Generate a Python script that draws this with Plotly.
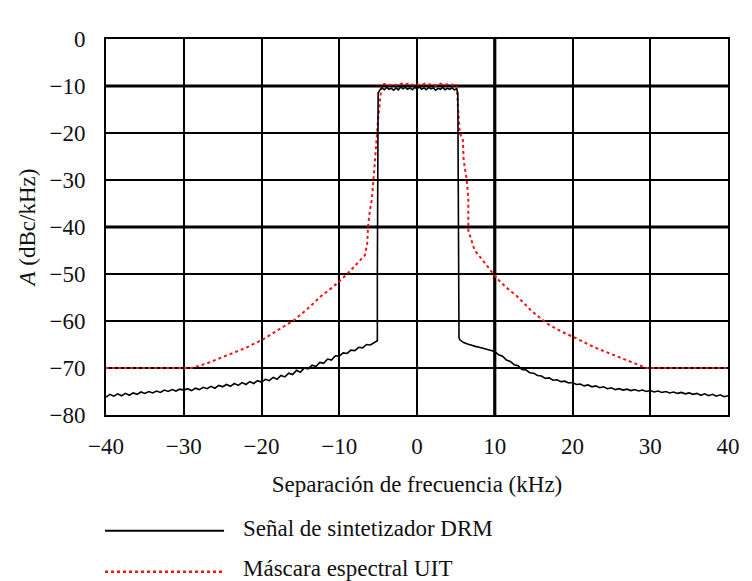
import plotly.graph_objects as go

# ---- Data ----
drm_x = [
    -40, -39.5, -39, -38.5, -38, -37.5, -37, -36.5, -36, -35.5, -35, -34.5, -34, -33.5, -33,
    -32.5, -32, -31.5, -31, -30.5, -30, -29.5, -29, -28.5, -28, -27.5, -27, -26.5, -26, -25.5,
    -25, -24.5, -24, -23.5, -23, -22.5, -22, -21.5, -21, -20.5, -20, -19.5, -19, -18.5, -18,
    -17.5, -17, -16.5, -16, -15.5, -15, -14.5, -14, -13.5, -13, -12.5, -12, -11.5, -11, -10.5,
    -10, -9.5, -9, -8.5, -8, -7.5, -7, -6.5, -6, -5.5, -5.1,
    -5.1, -5.05, -5.0, -4.8,
    -4.5, -4.2, -3.9, -3.6, -3.3, -3.0, -2.7, -2.4, -2.1, -1.8, -1.5, -1.2, -0.9, -0.6, -0.3,
    0, 0.3, 0.6, 0.9, 1.2, 1.5, 1.8, 2.1, 2.4, 2.7, 3.0, 3.3, 3.6, 3.9, 4.2, 4.5, 4.8, 5.1,
    5.25, 5.3, 5.35, 5.4,
    5.5, 6, 6.5, 7, 7.5, 8, 8.5, 9, 9.5, 10, 10.5, 11, 11.5, 12, 12.5, 13, 13.5, 14, 14.5,
    15, 15.5, 16, 16.5, 17, 17.5, 18, 18.5, 19, 19.5, 20, 20.5, 21, 21.5, 22, 22.5, 23, 23.5,
    24, 24.5, 25, 25.5, 26, 26.5, 27, 27.5, 28, 28.5, 29, 29.5, 30, 30.5, 31, 31.5, 32, 32.5,
    33, 33.5, 34, 34.5, 35, 35.5, 36, 36.5, 37, 37.5, 38, 38.5, 39, 39.5, 40,
]
drm_y = [
    -76.2, -75.6, -76.0, -75.5, -75.9, -75.4, -75.8, -75.3, -75.6, -75.1, -75.4, -75.0, -75.3, -74.9, -75.2,
    -74.7, -75.0, -74.6, -74.9, -74.5, -74.7, -74.4, -74.8, -74.3, -74.6, -74.1, -74.4, -73.9, -74.3, -73.7,
    -74.0, -73.5, -73.9, -73.3, -73.7, -73.1, -73.5, -72.9, -73.3, -72.7, -73.0, -72.4, -72.7, -72.0, -72.4,
    -71.6, -71.9, -71.1, -71.4, -70.5, -70.9, -70.0, -70.2, -69.4, -69.7, -68.8, -69.0, -68.1, -68.3, -67.4,
    -67.5, -66.8, -66.9, -66.2, -66.3, -65.6, -65.7, -65.0, -65.1, -64.5, -64.2,
    -50.0, -30.0, -11.5, -10.9,
    -10.4, -10.8, -10.3, -10.7, -10.5, -10.9, -10.4, -10.8, -10.2, -10.6, -10.3, -10.7, -10.4, -10.8, -10.3,
    -10.6, -10.2, -10.7, -10.4, -10.8, -10.3, -10.6, -10.4, -10.9, -10.5, -10.7, -10.3, -10.8, -10.5, -10.7, -10.4, -10.8, -10.6,
    -11.5, -30.0, -50.0, -63.5,
    -64.0, -64.6, -64.9, -65.2, -65.4, -65.6, -65.8, -66.0, -66.2, -66.5, -67.2, -67.5, -68.3, -68.6, -69.3, -69.5, -70.3, -70.4, -71.0,
    -71.1, -71.6, -71.7, -72.2, -72.1, -72.6, -72.5, -72.9, -72.8, -73.2, -73.1, -73.5, -73.4, -73.8, -73.6, -74.0, -73.8, -74.2,
    -74.0, -74.4, -74.2, -74.6, -74.4, -74.7, -74.5, -74.8, -74.6, -74.9, -74.7, -75.0, -74.8, -75.1, -74.9, -75.2, -75.0, -75.3,
    -75.1, -75.4, -75.2, -75.5, -75.3, -75.6, -75.4, -75.8, -75.5, -75.9, -75.6, -76.0, -75.7, -76.1, -75.9,
]

mask_x = [
    -40, -29, -27, -24.4, -22, -19.8, -18.0, -15.8, -14.0, -12.4, -11.0, -10, -8.5, -7.7, -6.7, -6.4, -6.3,
    -6.1, -5.8, -5.6, -5.4, -5.0, -4.6, -4.5,
    -4.0, -3.5, -3.0, -2.5, -2.0, -1.5, -1.0, -0.5, 0, 0.5, 1.0, 1.5, 2.0, 2.5, 3.0, 3.5, 4.0, 4.5, 5.0,
    5.1, 5.3, 5.5, 5.9, 6.0, 6.4, 6.6, 6.6, 7.4, 9.07, 10.26, 11.5, 12.9, 14.7, 16.7, 18.5, 20.5, 22.8,
    25.2, 27.2, 28.9, 29.5, 40,
]
mask_y = [
    -70, -70, -69.0, -67.3, -65.7, -63.9, -62.0, -59.8, -57.3, -54.8, -53.0, -51.6, -49.2, -47.7, -46.0, -43.4, -40.0,
    -37.0, -34.0, -30.0, -25.0, -17.0, -10.5, -9.7,
    -9.5, -9.8, -9.6, -9.9, -9.5, -9.7, -9.4, -9.8, -9.6, -9.9, -9.5, -9.7, -9.6, -9.9, -9.5, -9.8, -9.6, -9.7, -9.8,
    -9.9, -15.2, -20.0, -21.5, -25.8, -30.0, -34.0, -40.7, -44.9, -48.4, -50.9, -52.9, -54.8, -57.8, -60.5, -62.2, -63.7, -65.6,
    -67.2, -68.5, -69.5, -70, -70,
]

x_ticks = [-40, -30, -20, -10, 0, 10, 20, 30, 40]
y_ticks = [0, -10, -20, -30, -40, -50, -60, -70, -80]
bold_y = [-10, -40]
bold_x = [10]

series_names = ["Señal de sintetizador DRM", "Máscara espectral UIT"]
x_title = "Separación de frecuencia (kHz)"
y_title = "<i>A</i> (dBc/kHz)"

FONT = "Liberation Serif"
FS = 23

fig = go.Figure()

fig.add_trace(go.Scatter(
    x=mask_x, y=mask_y, mode="lines", name=series_names[1],
    line=dict(color="#f01414", width=2, dash="dot"), showlegend=False,
))
fig.add_trace(go.Scatter(
    x=drm_x, y=drm_y, mode="lines", name=series_names[0],
    line=dict(color="black", width=1.6), showlegend=False,
))

shapes = []
for yv in bold_y:
    shapes.append(dict(type="line", xref="x", yref="y", x0=-40, x1=40, y0=yv, y1=yv,
                       line=dict(color="black", width=3.2), layer="below"))
for xv in bold_x:
    shapes.append(dict(type="line", xref="x", yref="y", x0=xv, x1=xv, y0=-80, y1=0,
                       line=dict(color="black", width=3.2), layer="below"))

# manual legend below the plot
plot_top, plot_bot, plot_left, plot_right = 38.5, 415.0, 106.0, 733.0
H = plot_bot - plot_top
W = plot_right - plot_left

def px(xp):
    return (xp - plot_left) / W

def py(yp):
    return (plot_bot - yp) / H

shapes.append(dict(type="line", xref="paper", yref="paper", x0=px(105), x1=px(225),
                   y0=py(531), y1=py(531), line=dict(color="black", width=2)))
shapes.append(dict(type="line", xref="paper", yref="paper", x0=px(105), x1=px(225),
                   y0=py(572), y1=py(572), line=dict(color="#f01414", width=2.5, dash="dot")))

annotations = [
    dict(text=series_names[0], xref="paper", yref="paper", x=px(242), y=py(529),
         xanchor="left", yanchor="middle", showarrow=False,
         font=dict(family=FONT, size=FS, color="#111")),
    dict(text=series_names[1], xref="paper", yref="paper", x=px(242), y=py(569),
         xanchor="left", yanchor="middle", showarrow=False,
         font=dict(family=FONT, size=FS, color="#111")),
]

fig.update_layout(
    width=752, height=581,
    margin=dict(l=plot_left, r=752 - plot_right, t=plot_top, b=581 - plot_bot),
    paper_bgcolor="white", plot_bgcolor="white",
    font=dict(family=FONT, size=FS, color="#111"),
    shapes=shapes, annotations=annotations,
    showlegend=False,
)
fig.update_xaxes(
    range=[-40, 40], tickvals=x_ticks, showgrid=True, gridcolor="black", gridwidth=1.6,
    showline=True, linecolor="black", linewidth=2, mirror=True, zeroline=False,
    ticks="", ticklabelstandoff=9, tickfont=dict(family=FONT, size=FS),
    title=dict(text=x_title, standoff=18, font=dict(family=FONT, size=FS)),
)
fig.update_yaxes(
    range=[-80, 0], tickvals=y_ticks, showgrid=True, gridcolor="black", gridwidth=1.6,
    showline=True, linecolor="black", linewidth=2, mirror=True, zeroline=False,
    ticks="", ticklabelstandoff=14, tickfont=dict(family=FONT, size=FS),
    title=dict(text=y_title, standoff=7, font=dict(family=FONT, size=FS)),
)

fig.write_html("out.html")
